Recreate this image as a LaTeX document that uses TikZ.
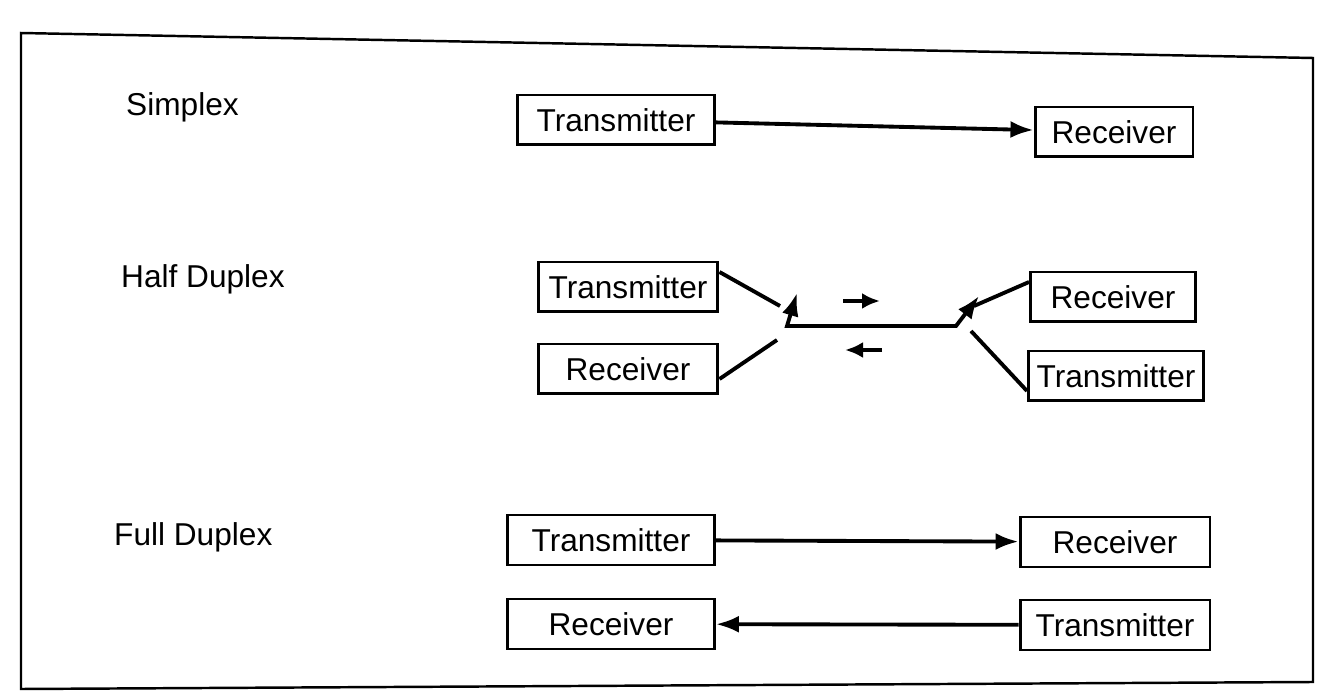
\documentclass[tikz,border=0pt]{standalone}
\usepackage{fontspec}
\setmainfont{Liberation Sans}
\usetikzlibrary{arrows.meta}

\begin{document}
\begin{tikzpicture}[
        x=0.02cm, y=-0.02cm,
        unit/.style={draw, line width=1.7pt, minimum height=1cm, inner sep=2pt, align=center, font=\fontsize{18}{20}\selectfont},
        modelabel/.style={anchor=west, font=\fontsize{18}{20}\selectfont},
        link/.style={line width=2.2pt},
        flow/.style={line width=2.2pt, -{Latex[length=4.6mm, width=3.4mm]}},
        dirmark/.style={line width=2.4pt, -{Latex[length=3.6mm, width=3.2mm]}}
    ]
    \useasboundingbox (0,0) rectangle (1329,695);

    % Outer frame
    \draw[line width=1.4pt] (21,33) -- (1313,58) -- (1313,682) -- (21,689) -- cycle;

    % Mode labels
    \node[modelabel] (simplex) at (120,107) {Simplex};
    \node[modelabel] (half) at (115,279) {Half Duplex};
    \node[modelabel] (full) at (108,537) {Full Duplex};

    % Simplex
    \node[unit, minimum width=3.94cm] (stx) at (616,120) {Transmitter};
    \node[unit, minimum width=3.16cm] (srx) at (1114,132) {Receiver};
    \draw[flow] (stx) -- (srx);

    % Half duplex
    \node[unit, minimum width=3.6cm] (htx) at (628,287) {Transmitter};
    \node[unit, minimum width=3.6cm] (hrx) at (628,369) {Receiver};
    \node[unit, minimum width=3.3cm] (hrxb) at (1113,297) {Receiver};
    \node[unit, minimum width=3.5cm] (htxb) at (1116,376) {Transmitter};

    \coordinate (cta) at (780,306);
    \coordinate (cra) at (777,340);
    \coordinate (swl) at (787,326);
    \coordinate (swlt) at (797,293);
    \coordinate (swr) at (956,326);
    \coordinate (swrt) at (979,296);
    \coordinate (crb) at (974,306);
    \coordinate (ctb) at (971,331);

    \draw[link] ([yshift=0.3cm]htx.east) -- (cta);
    \draw[link] ([yshift=-0.2cm]hrx.east) -- (cra);
    \draw[flow] (swr) -- (swl) -- (swlt);
    \draw[flow] (swl) -- (swr) -- (swrt);
    \draw[link] (crb) -- ([yshift=0.3cm]hrxb.west);
    \draw[link] (ctb) -- ([yshift=-0.3cm]htxb.west);

    \coordinate (rgta) at (843,301);
    \coordinate (rgtb) at (880,301);
    \coordinate (lfta) at (882,350);
    \coordinate (lftb) at (845,350);
    \draw[dirmark] (rgta) -- (rgtb);
    \draw[dirmark] (lfta) -- (lftb);

    % Full duplex
    \node[unit, minimum width=4.14cm] (ftx) at (611,540) {Transmitter};
    \node[unit, minimum width=3.8cm] (frx) at (1115,542) {Receiver};
    \node[unit, minimum width=4.14cm] (brx) at (611,624) {Receiver};
    \node[unit, minimum width=3.8cm] (btx) at (1115,625) {Transmitter};
    \draw[flow] (ftx) -- (frx);
    \draw[flow] (btx) -- (brx);

\end{tikzpicture}
\end{document}
